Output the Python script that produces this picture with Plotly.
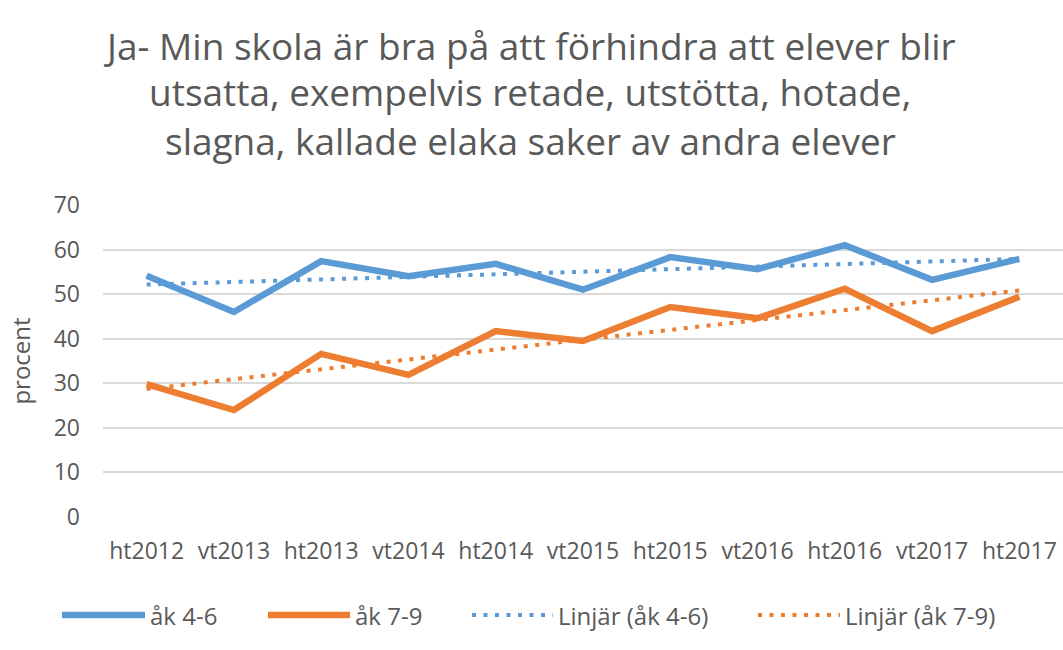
import numpy as np
import plotly.graph_objects as go

categories = ["ht2012", "vt2013", "ht2013", "vt2014", "ht2014", "vt2015",
              "ht2015", "vt2016", "ht2016", "vt2017", "ht2017"]
ak_4_6 = [54.1, 46.0, 57.4, 54.0, 56.8, 51.0, 58.3, 55.6, 61.0, 53.2, 57.9]
ak_7_9 = [29.8, 24.0, 36.6, 31.9, 41.7, 39.5, 47.1, 44.6, 51.2, 41.7, 49.4]
series_names = ["åk 4-6", "åk 7-9", "Linjär (åk 4-6)", "Linjär (åk 7-9)"]
title_lines = ["Ja- Min skola är bra på att förhindra att elever blir",
               "utsatta, exempelvis retade, utstötta, hotade,",
               "slagna, kallade elaka saker av andra elever"]

blue = "#5B9BD5"
orange = "#ED7D31"
gray = "#595959"
font_family = "Open Sans, Segoe UI, sans-serif"

W, H = 1063, 650
L, R, T, B = 103, 1063, 205, 517  # plot area in pixels


def px_x(px):
    return (px - L) / (R - L)


def px_y(py):
    return (B - py) / (B - T)


def linear_trend(values):
    idx = np.arange(len(values))
    slope, intercept = np.polyfit(idx, values, 1)
    return list(slope * idx + intercept)


dotted = "4px,7.5px"

fig = go.Figure()
fig.add_trace(go.Scatter(x=categories, y=ak_4_6, mode="lines", name=series_names[0],
                         line=dict(color=blue, width=6.5)))
fig.add_trace(go.Scatter(x=categories, y=ak_7_9, mode="lines", name=series_names[1],
                         line=dict(color=orange, width=6.5)))
fig.add_trace(go.Scatter(x=categories, y=linear_trend(ak_4_6), mode="lines",
                         name=series_names[2],
                         line=dict(color=blue, width=4, dash=dotted)))
fig.add_trace(go.Scatter(x=categories, y=linear_trend(ak_7_9), mode="lines",
                         name=series_names[3],
                         line=dict(color=orange, width=4, dash=dotted)))

# Title as three centred lines
for line, cy in zip(title_lines, [45, 92, 140]):
    fig.add_annotation(text=line, xref="paper", yref="paper",
                       x=px_x(530), y=px_y(cy), xanchor="center", yanchor="middle",
                       showarrow=False, font=dict(size=37, color=gray, family=font_family))

# Manual legend with long line samples
legend_items = [
    (62, 145, blue, "solid", 6.5, series_names[0]),
    (268, 350, orange, "solid", 6.5, series_names[1]),
    (472, 553, blue, dotted, 4, series_names[2]),
    (758, 840, orange, dotted, 4, series_names[3]),
]
ly = 615
for x0, x1, col, dash, w, name in legend_items:
    fig.add_shape(type="line", xref="paper", yref="paper",
                  x0=px_x(x0), x1=px_x(x1), y0=px_y(ly), y1=px_y(ly),
                  line=dict(color=col, width=w, dash=dash))
    fig.add_annotation(text=name, xref="paper", yref="paper",
                       x=px_x(x1 + 3), y=px_y(ly), xanchor="left", yanchor="middle",
                       showarrow=False, font=dict(size=24, color=gray, family=font_family))

fig.update_layout(
    width=W, height=H,
    paper_bgcolor="white", plot_bgcolor="white",
    margin=dict(l=L, r=W - R, t=T, b=H - B),
    font=dict(family=font_family, color=gray, size=20),
    showlegend=False,
    xaxis=dict(range=[-0.5, 10.5], showgrid=False, showline=False,
               ticks="", tickfont=dict(size=23, color=gray), ticklabelstandoff=18,
               fixedrange=True),
    yaxis=dict(range=[0, 70], dtick=10, showgrid=True, gridcolor="#D9D9D9",
               gridwidth=1.5, zeroline=False, showline=False,
               tickfont=dict(size=23, color=gray), ticklabelstandoff=22,
               title=dict(text="procent", font=dict(size=24, color=gray),
                          standoff=16),
               fixedrange=True),
)

fig.write_html("out.html", config={"displayModeBar": False},
               post_script="document.body.style.margin='0';")
